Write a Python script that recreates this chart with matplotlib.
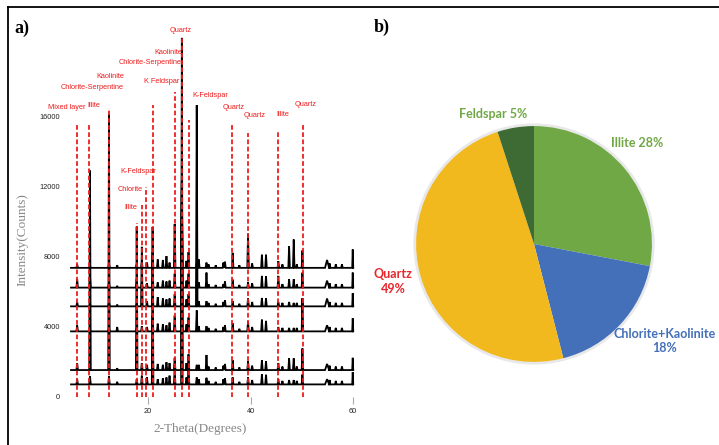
import matplotlib
matplotlib.use("Agg")
import matplotlib.pyplot as plt
from matplotlib.lines import Line2D
from matplotlib.patches import Circle

# ---- a) XRD patterns ----
two_theta_min = 5.0
two_theta_max = 60.0

# baseline (counts) of each stacked pattern, bottom to top
baselines = [720, 1540, 3750, 5180, 6250, 7380]

# peak positions (2-theta) and widths (degrees)
peak_pos = [6.2, 8.7, 12.4, 14.0, 17.8, 18.8, 19.8, 20.9, 21.9, 22.9, 23.6, 24.2,
            25.2, 26.6, 27.5, 27.9, 29.5, 29.9, 31.4, 31.8, 33.2, 34.7, 35.0, 36.5,
            37.8, 39.5, 40.3, 42.2, 43.0, 45.4, 46.2, 47.5, 48.4, 49.0, 50.1, 54.9,
            55.4, 56.6, 57.8, 59.9]
peak_width = [0.15, 0.15, 0.15, 0.15, 0.15, 0.15, 0.15, 0.15, 0.15, 0.15, 0.15, 0.15,
              0.15, 0.15, 0.15, 0.15, 0.15, 0.15, 0.15, 0.15, 0.15, 0.15, 0.15, 0.15,
              0.15, 0.15, 0.15, 0.15, 0.15, 0.15, 0.15, 0.15, 0.15, 0.15, 0.15, 0.4,
              0.15, 0.15, 0.15, 0.1]

# peak heights above baseline (counts), one list per pattern
heights_1 = [290, 470, 470, 150, 300, 500, 400, 9000, 300, 350, 400, 500,
             800, 19800, 400, 1200, 400, 300, 380, 200, 150, 300, 350, 400,
             150, 400, 250, 570, 550, 300, 200, 250, 250, 200, 570, 300,
             250, 200, 200, 700]
heights_2 = [380, 11400, 14600, 100, 8200, 400, 300, 1200, 350, 300, 450, 400,
             700, 9000, 400, 900, 300, 300, 860, 200, 150, 250, 350, 570,
             150, 500, 250, 570, 500, 400, 200, 670, 670, 200, 1240, 350,
             250, 200, 200, 700]
heights_3 = [340, 150, 200, 250, 150, 300, 250, 900, 440, 400, 350, 500,
             900, 8000, 400, 800, 1200, 300, 300, 200, 150, 250, 350, 460,
             150, 570, 250, 670, 600, 250, 200, 200, 200, 200, 1900, 350,
             250, 200, 200, 750]
heights_4 = [250, 150, 250, 100, 150, 3400, 300, 1000, 530, 450, 400, 450,
             700, 7000, 400, 700, 11500, 300, 300, 200, 150, 250, 350, 300,
             150, 460, 250, 480, 450, 250, 200, 250, 200, 200, 400, 450,
             250, 200, 200, 750]
heights_5 = [480, 670, 300, 100, 480, 300, 250, 1100, 300, 400, 350, 400,
             800, 6000, 400, 800, 400, 300, 860, 200, 150, 200, 350, 460,
             150, 300, 250, 670, 650, 670, 200, 480, 480, 200, 860, 400,
             250, 200, 200, 860]
heights_6 = [200, 120, 250, 150, 200, 300, 300, 900, 480, 450, 670, 300,
             2500, 5000, 400, 900, 300, 480, 300, 200, 150, 300, 350, 860,
             150, 1950, 250, 750, 750, 380, 200, 1240, 1620, 200, 1000, 450,
             250, 200, 200, 1050]
all_heights = [heights_1, heights_2, heights_3, heights_4, heights_5, heights_6]

# reference lines of the identified minerals
ref_pos = [6.2, 8.55, 12.4, 17.8, 18.8, 19.6, 21.0, 25.3, 26.7, 27.9, 36.45, 39.5, 45.4, 50.2]
ref_top = [15660, 15540, 16500, 9940, 10970, 12000, 16690, 17430, 20500, 15830,
           15540, 15090, 15140, 15660]

# mineral labels
label_text = ["Mixed layer", "Illite", "Kaolinite", "Chlorite-Serpentine", "K Feldspar",
              "Kaolinite", "Chlorite-Serpentine", "Quartz", "K-Feldspar", "Quartz",
              "Quartz", "Illite", "Quartz", "K-Feldspar", "Chlorite", "Illite"]
label_x = [4.2, 9.5, 12.6, 9.1, 22.7, 23.9, 20.4, 26.4, 32.1, 36.6, 40.7, 46.3, 50.8,
           18.05, 16.5, 16.7]
label_y = [16570, 16630, 18290, 17710, 18000, 19660, 19140, 20970, 17200, 16570,
           16060, 16170, 16690, 12860, 11830, 10800]

y_ticks = [0, 4000, 8000, 12000, 16000]
x_ticks = [20, 40, 60]

# ---- b) mineral composition ----
pie_names = ["Illite", "Chlorite+Kaolinite", "Quartz", "Feldspar"]
pie_values = [28, 18, 49, 5]
pie_colors = ["#70A846", "#4470BA", "#F2B91F", "#3E6A33"]


def trace_xy(base, heights):
    xs = [two_theta_min]
    ys = [base]
    for p, h, w in zip(peak_pos, heights, peak_width):
        xs += [p - w, p, p + w]
        ys += [base, base + h, base]
    xs.append(two_theta_max)
    ys.append(base)
    return xs, ys


fig = plt.figure(figsize=(7.19, 4.45), dpi=100)

ax = fig.add_axes([0.09163, 0.10787, 0.4068, 0.86517])
ax.set_xlim(4, 61)
ax.set_ylim(0, 22000)

for base, heights in zip(baselines, all_heights):
    xs, ys = trace_xy(base, heights)
    ax.plot(xs, ys, color="black", lw=1.3, solid_joinstyle="miter", zorder=2)

red = "#EE1C1C"
ax.vlines(ref_pos, 0, ref_top, colors=red, lw=1.3, linestyles=(0, (2.6, 1.4)), zorder=3)

for t, x, y in zip(label_text, label_x, label_y):
    ax.text(x, y, t, color=red, fontsize=5.3, family="Liberation Sans",
            ha="center", va="center", zorder=4)

for s in ax.spines.values():
    s.set_visible(False)
ax.set_yticks(y_ticks)
ax.set_yticklabels([str(v) for v in y_ticks])
ax.set_xticks(x_ticks)
ax.tick_params(axis="y", length=0, pad=4, labelsize=5.3, labelcolor="#222222")
ax.tick_params(axis="x", length=5, width=0.8, color="#aaaaaa", pad=3,
               labelsize=5.3, labelcolor="#222222")
for lab in ax.get_xticklabels() + ax.get_yticklabels():
    lab.set_family("Liberation Sans")

fig.text(200 / 719, 1 - 429 / 445, "2-Theta(Degrees)", family="Liberation Serif",
         fontsize=9.5, color="#888888", ha="center", va="center")
fig.text(22 / 719, 1 - 240 / 445, "Intensity(Counts)", family="Liberation Serif",
         fontsize=9.5, color="#888888", ha="center", va="center", rotation=90)

fig.text(22 / 719, 1 - 28 / 445, "a)", family="Liberation Serif", fontweight="bold",
         fontsize=13, ha="center", va="center")
fig.text(382 / 719, 1 - 27 / 445, "b)", family="Liberation Serif", fontweight="bold",
         fontsize=13, ha="center", va="center")

# pie
pax = fig.add_axes([409 / 719, 76 / 445, 250 / 719, 250 / 445])
pax.add_patch(Circle((0, 0), 1.008, facecolor="none", edgecolor="#e8e8e8", lw=2.5, zorder=0))
pax.pie(pie_values, colors=pie_colors, startangle=90, counterclock=False,
        wedgeprops=dict(linewidth=0), radius=1.0)
pax.set_xlim(-1.06, 1.06)
pax.set_ylim(-1.06, 1.06)
pax.set_aspect("auto")
pax.axis("off")

pie_font = dict(family="Lato", fontweight="bold", fontsize=9, ha="center", va="center",
                clip_on=False)
pax.text(-0.343, 1.103, "Feldspar 5%", color="#70A846", **pie_font)
pax.text(0.878, 0.854, "Illite 28%", color="#70A846", **pie_font)
pax.text(1.11, -0.823, "Chlorite+Kaolinite\n18%", color="#4470BA", linespacing=1.25, **pie_font)
pax.text(-1.196, -0.318, "Quartz\n49%", color="#E8262B", linespacing=1.25, **pie_font)

# frame
fig.add_artist(Line2D([8 / 719, 1], [1 - 7 / 445, 1 - 7 / 445], transform=fig.transFigure,
                      color="black", lw=1.3))
fig.add_artist(Line2D([8 / 719, 8 / 719], [0, 1 - 7 / 445], transform=fig.transFigure,
                      color="black", lw=1.3))

fig.savefig("out.png", dpi=100)
